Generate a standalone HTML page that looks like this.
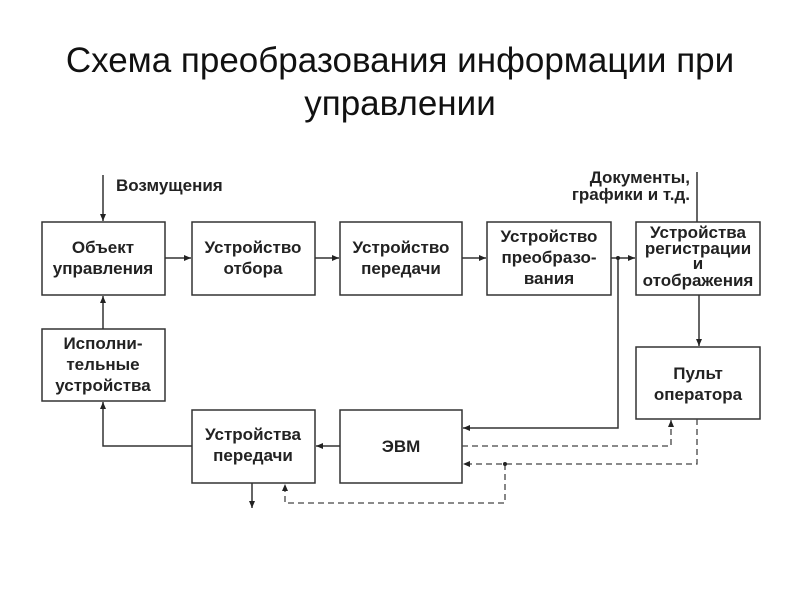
<!DOCTYPE html>
<html><head><meta charset="utf-8"><style>
body{margin:0;background:#fff;width:800px;height:600px;overflow:hidden}
.t{position:absolute;left:0;width:800px;text-align:center;font-family:"Liberation Sans",sans-serif;font-size:35px;color:#111;line-height:43px;top:39px}
svg{position:absolute;left:0;top:0}
text{font-family:"Liberation Sans",sans-serif;font-weight:bold;font-size:17px;fill:#222}
</style></head><body>
<div class="t">Схема преобразования информации при<br>управлении</div>
<svg width="800" height="600" viewBox="0 0 800 600">
<defs><marker id="a" markerWidth="8" markerHeight="8" refX="7" refY="4" orient="auto" markerUnits="userSpaceOnUse"><path d="M0,1 L7,4 L0,7z" fill="#222"/></marker></defs>
<g fill="none" stroke="#333" stroke-width="1.5">
<rect x="42" y="222" width="123" height="73"/>
<rect x="192" y="222" width="123" height="73"/>
<rect x="340" y="222" width="122" height="73"/>
<rect x="487" y="222" width="124" height="73"/>
<rect x="636" y="222" width="124" height="73"/>
<rect x="636" y="347" width="124" height="72"/>
<rect x="42" y="329" width="123" height="72"/>
<rect x="192" y="410" width="123" height="73"/>
<rect x="340" y="410" width="122" height="73"/>
<path d="M103 175V221" marker-end="url(#a)"/>
<path d="M165 258H191" marker-end="url(#a)"/>
<path d="M315 258H339" marker-end="url(#a)"/>
<path d="M462 258H486" marker-end="url(#a)"/>
<path d="M611 258H635" marker-end="url(#a)"/>
<path d="M618 258V428H463" marker-end="url(#a)"/>
<path d="M697 172V222"/>
<path d="M699 295V346" marker-end="url(#a)"/>
<path d="M340 446H316" marker-end="url(#a)"/>
<path d="M192 446H103V402" marker-end="url(#a)"/>
<path d="M103 329V296" marker-end="url(#a)"/>
<path d="M252 483V508" marker-end="url(#a)"/>
</g>
<g fill="none" stroke="#444" stroke-width="1.3" stroke-dasharray="6,4">
<path d="M462 446H671V420" marker-end="url(#a)"/>
<path d="M697 419V464H463" marker-end="url(#a)"/>
<path d="M505 464V503H285V484" marker-end="url(#a)"/>
</g>
<circle cx="618" cy="258" r="2" fill="#222"/>
<circle cx="505" cy="464" r="2" fill="#222"/>
<text x="116" y="191" font-size="14.5">Возмущения</text>
<text x="690" y="183" font-size="15" text-anchor="end">Документы,</text>
<text x="690" y="200" font-size="15" text-anchor="end">графики и т.д.</text>
<g text-anchor="middle">
<text x="103" y="253">Объект</text><text x="103" y="274">управления</text>
<text x="253" y="253">Устройство</text><text x="253" y="274">отбора</text>
<text x="401" y="253">Устройство</text><text x="401" y="274">передачи</text>
<text x="549" y="242">Устройство</text><text x="549" y="263">преобразо-</text><text x="549" y="284">вания</text>
<text x="698" y="238" font-size="14">Устройства</text><text x="698" y="254" font-size="14">регистрации</text><text x="698" y="269" font-size="14">и</text><text x="698" y="286" font-size="14">отображения</text>
<text x="698" y="379">Пульт</text><text x="698" y="400">оператора</text>
<text x="103" y="349">Исполни-</text><text x="103" y="370">тельные</text><text x="103" y="391">устройства</text>
<text x="253" y="440">Устройства</text><text x="253" y="461">передачи</text>
<text x="401" y="452">ЭВМ</text>
</g>
</svg>
</body></html>
